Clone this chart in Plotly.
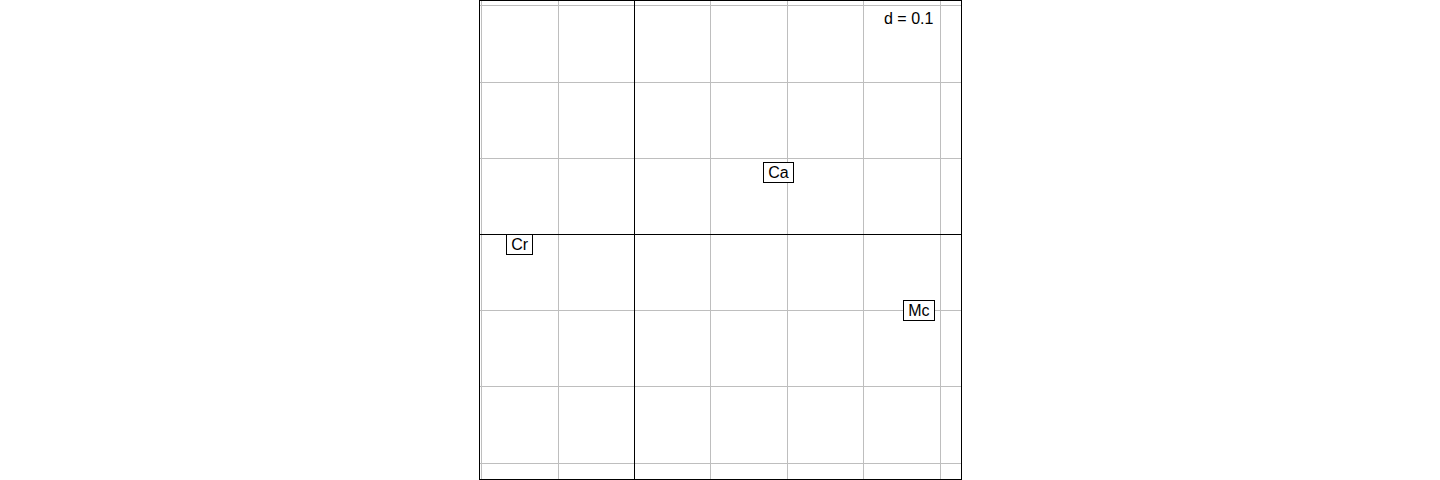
import plotly.graph_objects as go

labels = ["Ca", "Cr", "Mc"]
xs = [0.189, -0.150, 0.372]
ys = [0.081, -0.013, -0.0996]
grid_step = 0.1
x_range = [-0.2022, 0.4272]
y_range = [-0.3207, 0.3063]

fig = go.Figure()
fig.add_trace(go.Scatter(x=xs, y=ys, mode="markers", marker=dict(size=1, opacity=0),
                         hoverinfo="skip", showlegend=False))

for lab, x, y in zip(labels, xs, ys):
    fig.add_annotation(x=x, y=y, xref="x", yref="y", text="\u2009" + lab + "\u2009",
                       showarrow=False,
                       font=dict(family="Liberation Sans, Arial", size=16, color="black"),
                       bgcolor="white", bordercolor="black", borderwidth=1, borderpad=1)

fig.add_annotation(x=0.946, y=0.964, xref="paper", yref="paper", text="d = 0.1",
                   showarrow=False, xanchor="right", yanchor="middle",
                   font=dict(family="Liberation Sans, Arial", size=16, color="black"),
                   bgcolor="white", borderpad=1)

axis_common = dict(showgrid=True, gridcolor="#bebebe", gridwidth=1,
                   zeroline=True, zerolinecolor="black", zerolinewidth=1,
                   showticklabels=False, ticks="", dtick=grid_step, tick0=0,
                   showline=True, linecolor="black", linewidth=1, mirror=True)

fig.update_xaxes(range=x_range, **axis_common)
fig.update_yaxes(range=y_range, **axis_common)

fig.update_layout(width=1440, height=480,
                  margin=dict(l=480, r=479, t=1, b=1),
                  plot_bgcolor="white", paper_bgcolor="white",
                  showlegend=False)

fig.write_html("out.html", config={"displayModeBar": False},
               post_script="document.body.style.margin='0';document.body.style.padding='0';document.body.style.overflow='hidden';")
